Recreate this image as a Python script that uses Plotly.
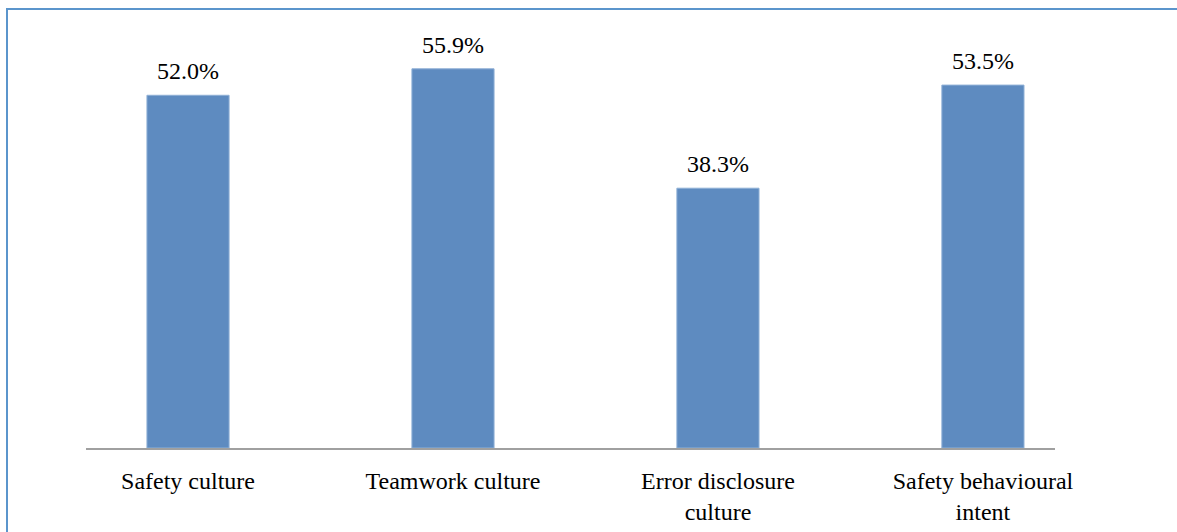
import plotly.graph_objects as go

categories = ["Safety culture", "Teamwork culture", "Error disclosure<br>culture", "Safety behavioural<br>intent"]
values = [52.0, 55.9, 38.3, 53.5]
labels = ["52.0%", "55.9%", "38.3%", "53.5%"]

W, H = 1177, 532
ml, mr, mt, mb = 86, W - 1055, 41, H - 448

fig = go.Figure()
fig.add_trace(go.Bar(
    x=list(range(len(categories))), y=values, width=0.31,
    marker=dict(color="#5E8BC0", line=dict(color="#8FB0D6", width=1)),
    hoverinfo="skip",
))
for i, (v, t) in enumerate(zip(values, labels)):
    fig.add_annotation(x=i, y=v, text=t, showarrow=False, yanchor="bottom", yshift=9,
                       font=dict(family="Liberation Serif", size=24, color="black"))

fig.update_layout(
    width=W, height=H,
    margin=dict(l=ml, r=mr, t=mt, b=mb, autoexpand=False),
    paper_bgcolor="white", plot_bgcolor="white",
    showlegend=False,
    xaxis=dict(range=[-0.385, 3.272], tickmode="array", tickvals=list(range(len(categories))),
               ticktext=categories, showgrid=False, zeroline=False, showline=True,
               linecolor="#A0A0A0", linewidth=2, ticks="", ticklabelstandoff=10,
               automargin=False,
               tickfont=dict(family="Liberation Serif", size=24, color="black")),
    yaxis=dict(range=[0, 60], visible=False, showgrid=False, zeroline=False, automargin=False),
    shapes=[dict(type="rect", xref="paper", yref="paper",
                 x0=(7 - ml) / (W - ml - mr), x1=1.2,
                 y0=-0.5, y1=(448 - 9) / (448 - mt),
                 line=dict(color="#5B95CC", width=2), fillcolor="rgba(0,0,0,0)", layer="below")],
)
post = (
    "document.body.style.margin='0';"
    "document.documentElement.style.overflow='hidden';"
    "document.body.style.overflow='hidden';"
    "var d=document.getElementById('{plot_id}');d.style.display='block';"
    "d.parentElement.style.height='532px';d.parentElement.style.overflow='hidden';"
)
fig.write_html("out.html", config={"displayModeBar": False, "staticPlot": True}, post_script=post)
